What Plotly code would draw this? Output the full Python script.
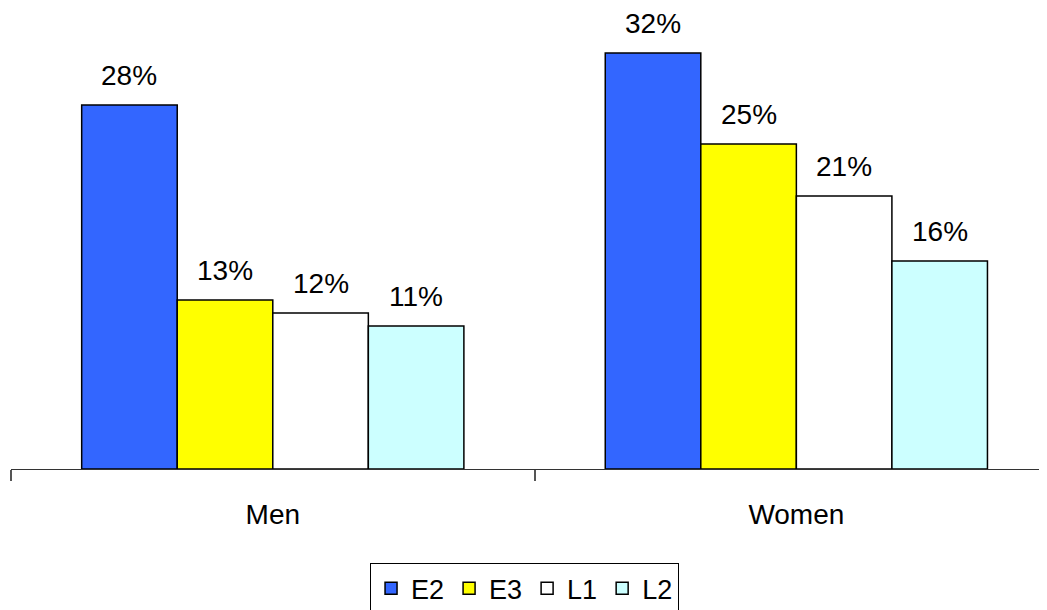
import plotly.graph_objects as go

# data
categories = ['Men', 'Women']
series_names = ['E2', 'E3', 'L1', 'L2']
e2_values = [28, 32]
e3_values = [13, 25]
l1_values = [12, 21]
l2_values = [11, 16]

colors = ['#3366FF', '#FFFF00', '#FFFFFF', '#CCFFFF']
all_values = [e2_values, e3_values, l1_values, l2_values]

FONT = 'Liberation Sans, Arial, sans-serif'
W, H = 1047, 610
# the page body adds an 8px offset, margins are reduced to compensate
M_L, M_R, M_T, M_B = 3, 0, 2, 149
BARGAP = 0.27
X_RANGE = [-0.5, 1.494]
Y_TOP = 35.3

fig = go.Figure()
for name, vals, col in zip(series_names, all_values, colors):
    fig.add_trace(go.Bar(x=categories, y=vals, name=name,
                         marker=dict(color=col, line=dict(color='black', width=1.5))))

# value labels above bars
plot_w = W - M_L - M_R
cat_px = plot_w / (X_RANGE[1] - X_RANGE[0])
bar_px = cat_px * (1 - BARGAP) / len(series_names)
for i, vals in enumerate(all_values):
    for cat, v in zip(categories, vals):
        fig.add_annotation(x=cat, y=v, text=f'{v}%', showarrow=False,
                           xshift=(i - 1.5) * bar_px, yanchor='bottom', yshift=12,
                           font=dict(family=FONT, size=28, color='black'))

fig.update_layout(
    width=W, height=H,
    margin=dict(l=M_L, r=M_R, t=M_T, b=M_B),
    plot_bgcolor='white', paper_bgcolor='white',
    barmode='group', bargap=BARGAP, bargroupgap=0,
    font=dict(family=FONT, size=28, color='black'),
    showlegend=True,
    legend=dict(orientation='h', x=0.4919, xanchor='center', y=-0.205, yanchor='top',
                bordercolor='black', borderwidth=1, font=dict(size=27),
                itemwidth=30, traceorder='normal'),
)
fig.update_xaxes(range=X_RANGE, showline=True, linecolor='#333333', linewidth=1,
                 ticks='outside', tickson='boundaries', ticklen=11, tickcolor='#555555',
                 tickwidth=2, ticklabelstandoff=20, showgrid=False, zeroline=False,
                 tickfont=dict(size=28))
fig.update_yaxes(range=[0, Y_TOP], visible=False, showgrid=False, zeroline=False)

fig.write_html("out.html")
